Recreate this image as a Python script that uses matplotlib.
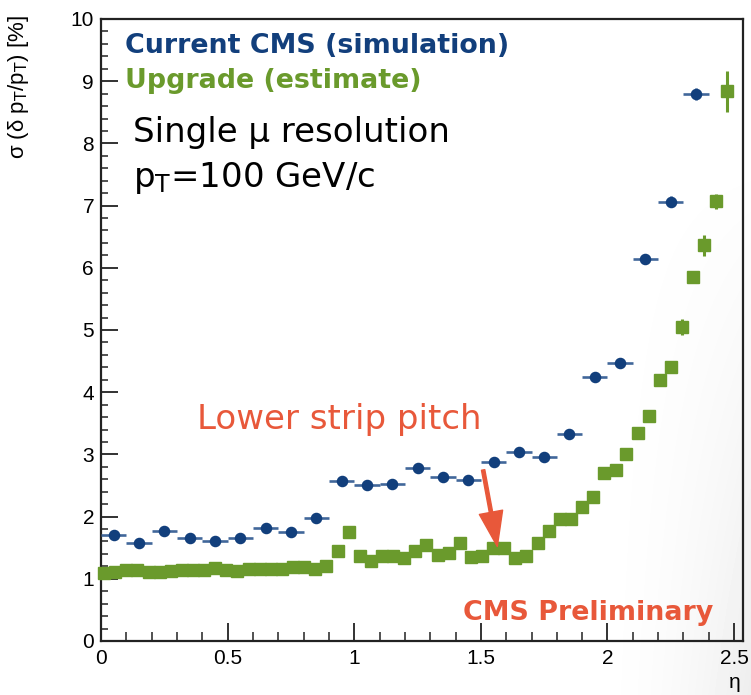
import matplotlib
matplotlib.use('Agg')
import matplotlib.pyplot as plt
import numpy as np

# Current CMS (simulation), bins of 0.1 in eta
blue_eta = [0.05, 0.15, 0.25, 0.35, 0.45, 0.55, 0.65, 0.75, 0.85, 0.95, 1.05, 1.15,
	1.25, 1.35, 1.45, 1.55, 1.65, 1.75, 1.85, 1.95, 2.05, 2.15, 2.25, 2.35]
blue_sigma = [1.71, 1.57, 1.77, 1.66, 1.61, 1.66, 1.82, 1.76, 1.98, 2.57, 2.51, 2.52,
	2.78, 2.64, 2.59, 2.88, 3.04, 2.96, 3.32, 4.24, 4.47, 6.14, 7.06, 8.79]
blue_yerr = [0.05, 0.05, 0.05, 0.05, 0.05, 0.05, 0.05, 0.05, 0.05, 0.05, 0.05, 0.05,
	0.05, 0.05, 0.05, 0.05, 0.05, 0.05, 0.06, 0.06, 0.07, 0.08, 0.09, 0.10]
blue_half_width = 0.05

# Upgrade (estimate), finer bins
green_eta = [0.012, 0.056, 0.100, 0.144, 0.188, 0.232, 0.275, 0.319, 0.363, 0.407,
	0.451, 0.495, 0.539, 0.583, 0.627, 0.671, 0.714, 0.758, 0.802, 0.846,
	0.890, 0.934, 0.978, 1.022, 1.066, 1.110, 1.153, 1.197, 1.241, 1.285,
	1.329, 1.373, 1.417, 1.461, 1.505, 1.549, 1.593, 1.636, 1.680, 1.724,
	1.768, 1.812, 1.856, 1.900, 1.944, 1.988, 2.032, 2.075, 2.119, 2.163,
	2.207, 2.251, 2.295, 2.339, 2.383, 2.427, 2.471]
green_sigma = [1.10, 1.11, 1.14, 1.14, 1.11, 1.11, 1.13, 1.14, 1.14, 1.14,
	1.18, 1.14, 1.12, 1.15, 1.15, 1.15, 1.16, 1.19, 1.19, 1.16,
	1.20, 1.45, 1.75, 1.37, 1.29, 1.37, 1.37, 1.33, 1.44, 1.54,
	1.38, 1.41, 1.57, 1.35, 1.37, 1.50, 1.50, 1.34, 1.36, 1.57,
	1.77, 1.96, 1.96, 2.16, 2.32, 2.70, 2.75, 3.01, 3.35, 3.62,
	4.20, 4.40, 5.05, 5.86, 6.36, 7.07, 8.84]
green_yerr = [0.02] * 50 + [0.06, 0.06, 0.13, 0.08, 0.17, 0.12, 0.33]

x_ticks = [0, 0.5, 1, 1.5, 2, 2.5]
x_tick_labels = ['0', '0.5', '1', '1.5', '2', '2.5']
y_ticks = [0, 1, 2, 3, 4, 5, 6, 7, 8, 9, 10]

BLUE = '#123f7c'
BLUE_BAR = '#41679a'
GREEN = '#6a9a2c'
ORANGE = '#e8583a'
TEXT_FONT = 'DejaVu Sans'

plt.rcParams['font.family'] = ['Liberation Sans', 'DejaVu Sans']
plt.rcParams['mathtext.fontset'] = 'custom'
plt.rcParams['mathtext.rm'] = 'DejaVu Sans'
plt.rcParams['mathtext.it'] = 'DejaVu Sans:italic'

W, H = 751, 695
fig = plt.figure(figsize=(W / 100, H / 100), dpi=100)

# faint grey shadow of the slide in the lower right corner
bg = fig.add_axes([0, 0, 1, 1], zorder=-10)
yy, xx = np.mgrid[0:H, 0:W]
shade = 0.07 * np.clip((xx - 580) / 171, 0, 1) ** 2 * np.clip((yy - 150) / 545, 0, 1)
bg.imshow(1 - shade, cmap='gray', vmin=0, vmax=1, aspect='auto', interpolation='bilinear')
bg.axis('off')

ax = fig.add_axes([101 / W, 1 - 641 / H, (742.7 - 101) / W, (641 - 19) / H])
ax.set_facecolor('none')

ax.errorbar(blue_eta, blue_sigma, xerr=blue_half_width, yerr=blue_yerr, fmt='o', ms=7.3,
	color=BLUE, ecolor=BLUE_BAR, elinewidth=1.9, capsize=0, zorder=3)
ax.errorbar(green_eta, green_sigma, yerr=green_yerr, fmt='s', ms=8, color=GREEN,
	mec=GREEN, ecolor=GREEN, elinewidth=2.2, capsize=0, clip_on=False, zorder=4)

ax.set_xlim(0, 2.534)
ax.set_ylim(0, 10)
ax.set_xticks(x_ticks)
ax.set_xticklabels(x_tick_labels)
ax.set_xticks(np.arange(0, 2.51, 0.1), minor=True)
ax.set_yticks(y_ticks)
ax.set_yticks(np.arange(0, 10.01, 0.2), minor=True)
ax.tick_params(which='both', direction='in', top=False, right=False, color='#222222')
ax.tick_params(axis='x', which='major', length=13, width=1.3, labelsize=15, pad=6)
ax.tick_params(axis='x', which='minor', length=6.5, width=1.1)
ax.tick_params(axis='y', which='major', length=12.5, width=1.3, labelsize=15, pad=5)
ax.tick_params(axis='y', which='minor', length=5, width=1.1)
for s in ax.spines.values():
	s.set_linewidth(1.6)
	s.set_color('#222222')

fig.text(735 / W, 1 - 683 / H, 'η', fontsize=15, ha='center', va='center')
fig.text(19 / W, 1 - 15 / H, r'σ (δ p$_{\mathrm{T}}$/p$_{\mathrm{T}}$) [%]', fontsize=16,
	rotation=90, ha='center', va='top', family='Liberation Sans')

fig.text(125 / W, 1 - 53 / H, 'Current CMS (simulation)', color=BLUE, fontsize=19.4,
	fontweight='bold', family=TEXT_FONT, va='baseline')
fig.text(125 / W, 1 - 88 / H, 'Upgrade (estimate)', color=GREEN, fontsize=19.4,
	fontweight='bold', family=TEXT_FONT, va='baseline')
fig.text(133 / W, 1 - 142 / H, 'Single μ resolution', color='black', fontsize=24.5,
	family=TEXT_FONT, va='baseline')
fig.text(133 / W, 1 - 187 / H, r'p$_{\mathrm{T}}$=100 GeV/c', color='black', fontsize=24.5,
	family=TEXT_FONT, va='baseline')
fig.text(197 / W, 1 - 429 / H, 'Lower strip pitch', color=ORANGE, fontsize=24.5,
	family=TEXT_FONT, va='baseline')
fig.text(463 / W, 1 - 620 / H, 'CMS Preliminary', color=ORANGE, fontsize=19.4,
	fontweight='bold', family=TEXT_FONT, va='baseline')

ax.annotate('', xy=(1.565, 1.52), xytext=(1.509, 2.75),
	arrowprops=dict(arrowstyle='simple,head_length=1.25,head_width=0.85,tail_width=0.12',
		mutation_scale=20, color=ORANGE, shrinkA=0, shrinkB=0), zorder=5)

fig.savefig('out.png', dpi=100)
